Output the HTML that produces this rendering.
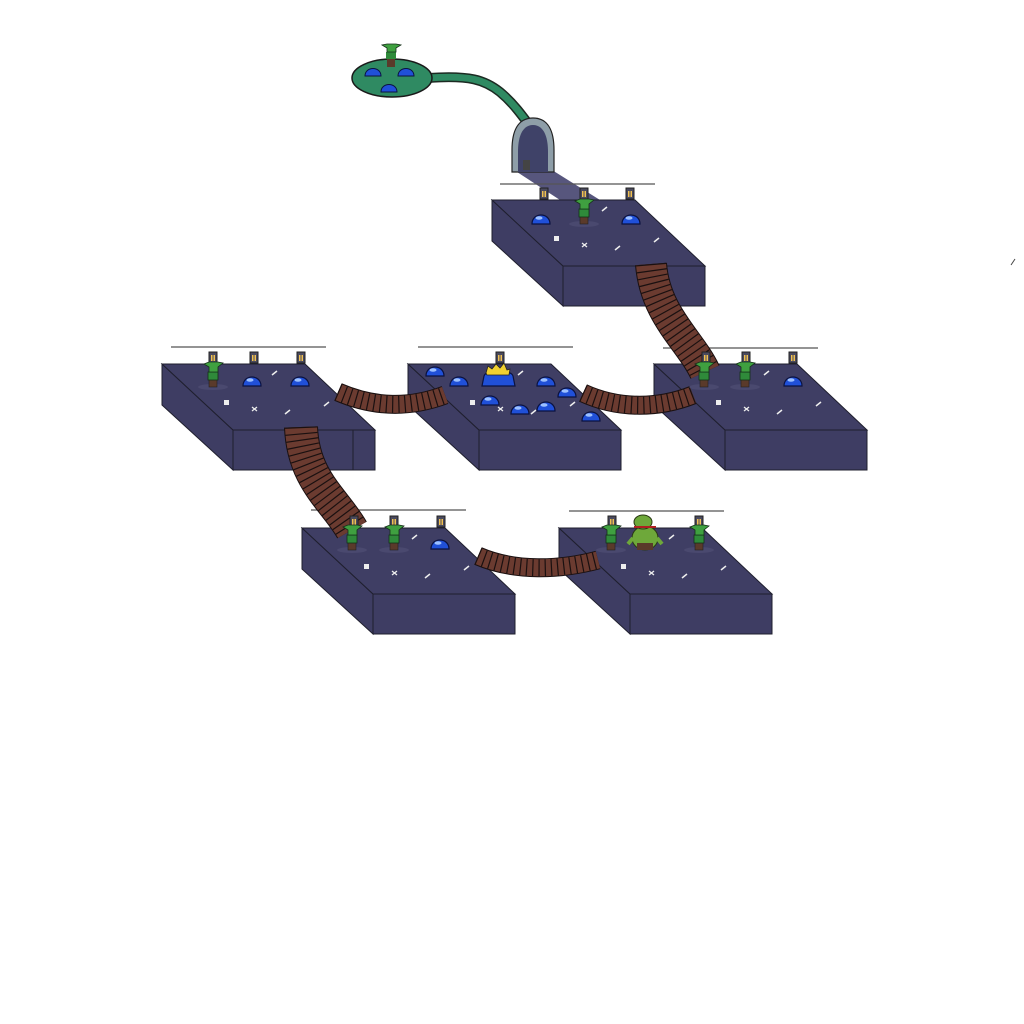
<!DOCTYPE html>
<html><head><meta charset="utf-8"><style>
html,body{margin:0;padding:0;background:#fff;width:1024px;height:1024px;overflow:hidden}
svg{display:block}
</style></head><body>
<svg id="map" width="1024" height="1024" viewBox="0 0 1024 1024" xmlns="http://www.w3.org/2000/svg">
<g id="paths"></g>
<g id="plats"></g>
<g id="bridges"></g>
<g id="sprites"></g>
</svg>
<script>
const NS='http://www.w3.org/2000/svg';
const roomX=[492,162,408,654,302,559];
const roomY=[200,364,364,364,528,528];
const roomNames=['room-entrance','room-west','room-slime-king','room-east','room-southwest','room-boss'];
const bridgeDefs=[
 ['M651,264 C655,315 690,340 705,372',30,'bridge-entrance-east'],
 ['M338,392 C375,408 410,408 445,395',17,'bridge-west-king'],
 ['M583,393 C620,410 660,408 693,395',17,'bridge-king-east'],
 ['M301,427 C303,480 335,500 352,530',32,'bridge-west-southwest'],
 ['M478,556 C515,572 560,570 598,560',17,'bridge-southwest-boss']
];
const goblinX=[584,213,704,745,352,394,611,699];
const goblinY=[224,387,387,387,550,550,550,550];
const slimeX=[541,631,252,300,435,459,546,567,490,520,546,591,793,440];
const slimeY=[224,224,386,386,376,386,386,397,405,414,411,421,386,549];
const lanternX=[544,584,630,213,254,301,500,706,746,793,354,394,441,612,699];
const lanternY=[193,193,193,357,357,357,357,357,357,357,521,521,521,521,521];
const wireX=[500,171,418,663,311,569];
const wireY=[184,347,347,348,510,511];
function el(t,a,p){const e=document.createElementNS(NS,t);for(const k in a)e.setAttribute(k,a[k]);(p||document.getElementById('sprites')).appendChild(e);return e;}
const P=document.getElementById('plats'),B=document.getElementById('bridges'),G=document.getElementById('paths');
let e;
e=el('path',{d:'M428,78 C470,75 485,80 500,92 C512,102 520,112 540,140',fill:'none',stroke:'#1c2a22','stroke-width':10},G);

el('path',{d:'M428,78 C470,75 485,80 500,92 C512,102 520,112 540,140',fill:'none',stroke:'#2f8a62','stroke-width':7},G);
e=el('ellipse',{cx:392,cy:78,rx:40,ry:19,fill:'#2f8a62',stroke:'#1a1a1a','stroke-width':1.5},G);

e=el('polygon',{points:'514,170 552,170 600,200 560,200',fill:'#57567d'},G);

e=el('path',{d:'M512,172 L512,150 C512,125 522,118 533,118 C544,118 554,125 554,150 L554,172 Z',fill:'#8e9ea8',stroke:'#222','stroke-width':1.2},G);

el('path',{d:'M518,172 L518,152 C518,132 525,125 533,125 C541,125 548,132 548,152 L548,172 Z',fill:'#3f4268'},G);
el('rect',{x:523,y:160,width:7,height:10,fill:'#444'},G);
for(let i=0;i<roomX.length;i++){
 const x=roomX[i],y=roomY[i];
 const g=el('g',{},P);
 
 
 el('polygon',{points:`${x},${y} ${x+71},${y+66} ${x+71},${y+106} ${x},${y+41}`,fill:'#3e3d63',stroke:'#1f1f2e','stroke-width':1},g);
 el('rect',{x:x+71,y:y+66,width:142,height:40,fill:'#3e3d63',stroke:'#1f1f2e','stroke-width':1},g);
 el('polygon',{points:`${x},${y} ${x+143},${y} ${x+213},${y+66} ${x+71},${y+66}`,fill:'#3f3e64',stroke:'#1f1f2e','stroke-width':1},g);
 el('path',{d:`M${wireX[i]},${wireY[i]} L${wireX[i]+155},${wireY[i]}`,stroke:'#555','stroke-width':1.2,fill:'none'},g);
 el('rect',{x:x+62,y:y+36,width:5,height:5,fill:'#eee'},g);
 el('path',{d:`M${x+90},${y+47} l5,-4 M${x+90},${y+43} l5,4`,stroke:'#eee','stroke-width':1.3},g);
 el('path',{d:`M${x+123},${y+50} l5,-4 M${x+162},${y+42} l5,-4 M${x+110},${y+11} l5,-4`,stroke:'#eee','stroke-width':1.5},g);
}
el('path',{d:'M353,430 L353,470',stroke:'#1f1f2e','stroke-width':1},P);
for(const [d,wd,n] of bridgeDefs){
 const g=el('g',{},B);
 
 
 el('path',{d,fill:'none',stroke:'#1a1010','stroke-width':wd+2},g);
 el('path',{d,fill:'none',stroke:'#6b3b30','stroke-width':wd},g);
 el('path',{d,fill:'none',stroke:'#1a1010','stroke-width':wd,'stroke-dasharray':'1.2 5'},g);
}
for(let i=0;i<lanternX.length;i++){
 const g=el('g',{});
 
 
 el('rect',{x:lanternX[i]-4,y:lanternY[i]-5,width:8,height:11,fill:'#4a4a5e',stroke:'#222','stroke-width':1},g);
 el('rect',{x:lanternX[i]-2,y:lanternY[i]-2,width:1.5,height:6,fill:'#f0c050'},g);
 el('rect',{x:lanternX[i]+0.5,y:lanternY[i]-2,width:1.5,height:6,fill:'#f0c050'},g);
}
for(let i=0;i<slimeX.length;i++){
 const x=slimeX[i],y=slimeY[i];
 const g=el('g',{});
 
 
 el('path',{d:`M${x-9},${y} C${x-9},${y-12} ${x+9},${y-12} ${x+9},${y} Z`,fill:'#2050d8',stroke:'#0b1240','stroke-width':1.2},g);
 el('ellipse',{cx:x-2,cy:y-6,rx:3.5,ry:1.8,fill:'#9cc0ff'},g);
}
e=el('g',{});


el('path',{d:'M482,386 L484,376 C486,369 511,369 513,376 L515,386 Z',fill:'#2050d8',stroke:'#0b1240','stroke-width':1.2},e);
el('polygon',{points:'486,373 488,366 492,369 496,364 500,368 504,363 507,370 510,369 509,375 487,375',fill:'#f0d030',stroke:'#222','stroke-width':0.8},e);
for(let i=0;i<goblinX.length;i++){
 const x=goblinX[i],y=goblinY[i];
 const g=el('g',{});
 
 
 el('ellipse',{cx:x,cy:y,rx:15,ry:3,fill:'#55547a',opacity:0.5},g);
 el('rect',{x:x-4,y:y-8,width:8,height:8,fill:'#5a3a2a',stroke:'#222','stroke-width':0.6},g);
 el('rect',{x:x-5,y:y-15,width:10,height:8,fill:'#2f8a3a',stroke:'#16301a','stroke-width':0.8},g);
 el('path',{d:`M${x-9},${y-23} L${x-4},${y-20} L${x-4},${y-15} L${x+5},${y-15} L${x+5},${y-20} L${x+10},${y-24} L${x+5},${y-25} L${x-4},${y-25} Z`,fill:'#3fa040',stroke:'#16301a','stroke-width':0.8},g);
}
e=el('g',{});


el('rect',{x:387,y:59,width:8,height:8,fill:'#5a3a2a'},e);
el('rect',{x:386,y:52,width:10,height:7,fill:'#2f8a3a'},e);
el('path',{d:'M382,45 L387,48 L387,52 L396,52 L396,48 L401,45 L396,44 L387,44 Z',fill:'#3fa040',stroke:'#16301a','stroke-width':0.8},e);
for(const [sx,sy] of [[373,76],[406,76],[389,92]]){
 el('path',{d:`M${sx-8},${sy} C${sx-8},${sy-10} ${sx+8},${sy-10} ${sx+8},${sy} Z`,fill:'#2050d8',stroke:'#0b1240','stroke-width':1},e);
}
e=el('g',{});


el('ellipse',{cx:645,cy:538,rx:13,ry:12,fill:'#6ea83a',stroke:'#2a3a14','stroke-width':1},e);
el('rect',{x:637,y:543,width:16,height:7,fill:'#5a3a2a'},e);
el('ellipse',{cx:643,cy:522,rx:9,ry:7,fill:'#6ea83a',stroke:'#2a3a14','stroke-width':1},e);
el('path',{d:'M634,527 L656,527',stroke:'#b02020','stroke-width':2},e);
el('path',{d:'M633,538 l-5,6 M657,538 l5,6',stroke:'#6ea83a','stroke-width':4},e);
el('path',{d:'M1011,265 l4,-6',stroke:'#444','stroke-width':1});
</script>
</body></html>
